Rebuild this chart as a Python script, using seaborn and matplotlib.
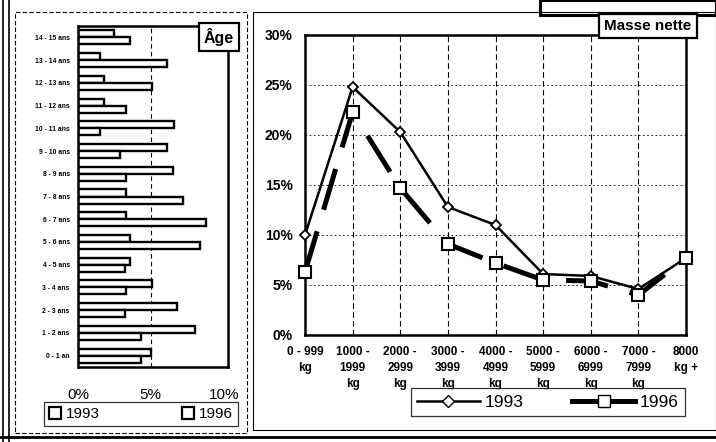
import pandas as pd
import seaborn as sns
import matplotlib.pyplot as plt
from matplotlib.patches import Rectangle
from matplotlib.lines import Line2D
from matplotlib.ticker import FuncFormatter

# --- data -------------------------------------------------------------
age_labels = ["14 - 15 ans", "13 - 14 ans", "12 - 13 ans", "11 - 12 ans",
              "10 - 11 ans", "9 - 10 ans", "8 - 9 ans", "7 - 8 ans",
              "6 - 7 ans", "5 - 6 ans", "4 - 5 ans", "3 - 4 ans",
              "2 - 3 ans", "1 - 2 ans", "0 - 1 an"]
age_1996 = [2.5, 1.5, 1.8, 1.8, 6.6, 6.1, 6.5, 3.3, 3.3, 3.6, 3.6, 5.1, 6.8, 8.0, 5.0]
age_1993 = [3.6, 6.1, 5.1, 3.3, 1.5, 2.9, 3.3, 7.2, 8.8, 8.4, 3.2, 3.3, 3.2, 4.3, 4.3]

mass_labels = ["0 - 999\nkg", "1000 -\n1999\nkg", "2000 -\n2999\nkg",
               "3000 -\n3999\nkg", "4000 -\n4999\nkg", "5000 -\n5999\nkg",
               "6000 -\n6999\nkg", "7000 -\n7999\nkg", "8000\nkg +"]
mass_1993 = [10.0, 24.8, 20.3, 12.8, 11.0, 6.1, 5.9, 4.6, 7.7]
mass_1996 = [6.3, 22.3, 14.7, 9.1, 7.2, 5.5, 5.4, 4.0, 7.7]

years = ["1993", "1996"]

plt.rcParams["font.family"] = ["Liberation Sans", "DejaVu Sans"]

W, H = 716, 442
fig = plt.figure(figsize=(W / 100, H / 100), dpi=100)


def fx(px):
    return px / W


def fy(py):
    return 1 - py / H


# --- left panel: age bars ---------------------------------------------
age_df = pd.DataFrame({
    "age": age_labels * 2,
    "pct": age_1996 + age_1993,
    "year": ["1996"] * len(age_labels) + ["1993"] * len(age_labels),
})

ax1 = fig.add_axes([fx(78), fy(367), fx(228) - fx(78), fy(26) - fy(367)])
sns.barplot(data=age_df, y="age", x="pct", hue="year", hue_order=["1996", "1993"],
            order=age_labels, orient="h", palette=["white", "white"],
            edgecolor="black", linewidth=1.7, width=0.62, legend=False, ax=ax1)
ax1.set_xlim(0, 10.3)
ax1.set_xticks([0, 5, 10])
ax1.xaxis.set_major_formatter(FuncFormatter(lambda v, p: f"{v:.0f}%"))
ax1.axvline(5, color="black", lw=0.8, ls=(0, (4, 3)), zorder=0)
ax1.set_xlabel("")
ax1.set_ylabel("")
ax1.tick_params(axis="y", length=0, labelsize=4.9, pad=6)
ax1.tick_params(axis="x", length=0, labelsize=11, pad=15)
for lab in ax1.get_yticklabels():
    lab.set_fontweight("bold")
for s in ax1.spines.values():
    s.set_linewidth(1.8)
    s.set_color("black")

fig.text(fx(219), fy(37), "Âge", ha="center", va="center", fontsize=11.5,
         fontweight="bold",
         bbox=dict(boxstyle="square,pad=0.3", fc="white", ec="black", lw=1.6))

# --- right panel: net mass lines -------------------------------------
ax2 = fig.add_axes([fx(305), fy(335), fx(686) - fx(305), fy(35) - fy(335)])
xs = list(range(len(mass_labels)))
sns.lineplot(x=xs, y=mass_1993, color="black", lw=1.8, marker="D",
             markersize=5.5, markerfacecolor="white", markeredgecolor="black",
             markeredgewidth=1.3, ax=ax2, zorder=3, clip_on=False)
sns.lineplot(x=xs, y=mass_1996, color="black", lw=3.6, ls=(0, (8.5, 4.5)),
             marker="s", markersize=8, markerfacecolor="white",
             markeredgecolor="black", markeredgewidth=1.5, ax=ax2, zorder=4,
             clip_on=False)
ax2.set_xlim(0, 8)
ax2.set_ylim(0, 30)
ax2.set_xticks(xs)
ax2.set_xticklabels(mass_labels, linespacing=1.45)
ax2.set_yticks(range(0, 31, 5))
ax2.yaxis.set_major_formatter(FuncFormatter(lambda v, p: f"{v:.0f}%"))
ax2.tick_params(axis="both", length=0, labelsize=8.5)
ax2.tick_params(axis="y", labelsize=10, pad=9)
ax2.tick_params(axis="x", pad=8)
for lab in ax2.get_xticklabels() + ax2.get_yticklabels():
    lab.set_fontweight("bold")
for v in range(1, 8):
    ax2.axvline(v, color="black", lw=0.8, ls=(0, (5, 3)), zorder=0)
for v in range(5, 30, 5):
    ax2.axhline(v, color="black", lw=0.6, ls=(0, (2, 3)), zorder=0)
for s in ax2.spines.values():
    s.set_linewidth(1.8)
    s.set_color("black")

fig.text(fx(648), fy(26), "Masse nette", ha="center", va="center", fontsize=11,
         fontweight="bold",
         bbox=dict(boxstyle="square,pad=0.35", fc="white", ec="black", lw=1.6))

# --- legends ------------------------------------------------------------
sq = dict(marker="s", color="none", markerfacecolor="white",
          markeredgecolor="black", markeredgewidth=1.6, markersize=8)
h_age = [Line2D([], [], **sq) for _ in years]
fig.legend(h_age, years, loc="center", bbox_to_anchor=(fx(141), fy(414)),
           ncol=2, fontsize=11, frameon=True, fancybox=False,
           edgecolor="black", handlelength=0.8, handletextpad=0.3,
           columnspacing=5.4, borderpad=0.35, borderaxespad=0,
           ).get_frame().set_linewidth(0.9)

h_mass = [
    Line2D([], [], color="black", lw=1.8, marker="D", markersize=6,
           markerfacecolor="white", markeredgecolor="black"),
    Line2D([], [], color="black", lw=3.6, marker="s", markersize=9,
           markerfacecolor="white", markeredgecolor="black"),
]
fig.legend(h_mass, years, loc="center", bbox_to_anchor=(fx(548), fy(402)),
           ncol=2, fontsize=12.5, frameon=True, fancybox=False,
           edgecolor="black", handlelength=3.6, handletextpad=0.3,
           columnspacing=2.8, borderpad=0.35, borderaxespad=0,
           ).get_frame().set_linewidth(0.9)

# --- page frames --------------------------------------------------------
frames = [
    Rectangle((fx(15), fy(433)), fx(247) - fx(15), fy(12) - fy(433),
              fill=False, ec="black", lw=0.8, ls=(0, (4, 2))),
    Rectangle((fx(253), fy(430)), fx(716) - fx(253), fy(12) - fy(430),
              fill=False, ec="black", lw=0.8),
    Rectangle((fx(540), fy(15)), fx(716) - fx(540), fy(0) - fy(15),
              fill=False, ec="black", lw=2.2),
]
for r in frames:
    r.set_transform(fig.transFigure)
    fig.patches.append(r)
for x0 in (3, 9):
    fig.add_artist(Line2D([fx(x0), fx(x0)], [0, 1], color="black", lw=1.2,
                          transform=fig.transFigure))
fig.add_artist(Line2D([0, 1], [fy(437), fy(437)], color="black", lw=2.0,
                      transform=fig.transFigure))

fig.savefig("out.png", dpi=100)
